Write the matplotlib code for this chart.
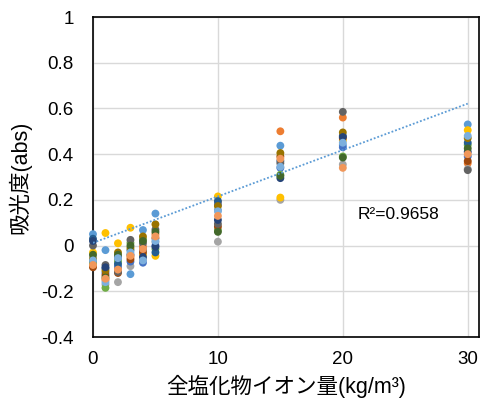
import numpy as np
import matplotlib
matplotlib.use('Agg')
import matplotlib.pyplot as plt
from matplotlib.ticker import FixedLocator, FuncFormatter

plt.rcParams['font.family'] = ['Liberation Sans', 'Noto Sans CJK JP', 'DejaVu Sans']

# 全塩化物イオン量 (kg/m3)
conc = [0, 1, 2, 3, 4, 5, 10, 15, 20, 30]

# 吸光度 for each sample at every concentration, in sample order
abs_0 = [0.050, -0.090, -0.050, -0.030, -0.070, -0.080, 0.030, -0.095, 0.000, -0.060, 0.020, -0.040, -0.065, -0.085]
abs_1 = [-0.020, -0.150, -0.170, 0.055, -0.120, -0.185, -0.100, -0.130, -0.085, -0.110, -0.095, -0.140, -0.160, -0.145]
abs_2 = [-0.060, -0.100, -0.160, 0.010, -0.090, -0.070, -0.080, -0.120, -0.115, -0.030, -0.050, -0.040, -0.055, -0.105]
abs_3 = [-0.125, -0.050, -0.090, 0.078, -0.070, 0.012, -0.020, -0.060, 0.025, -0.010, -0.040, 0.000, -0.030, -0.045]
abs_4 = [0.068, -0.005, -0.060, -0.040, -0.075, 0.028, -0.020, -0.030, 0.010, 0.040, -0.050, 0.020, -0.065, -0.015]
abs_5 = [0.140, 0.050, 0.015, -0.045, 0.000, -0.015, -0.030, 0.032, 0.070, 0.093, -0.005, 0.060, 0.020, 0.040]
abs_10 = [0.155, 0.190, 0.017, 0.215, 0.180, 0.068, 0.195, 0.083, 0.095, 0.173, 0.112, 0.060, 0.150, 0.130]
abs_15 = [0.437, 0.500, 0.200, 0.210, 0.340, 0.310, 0.370, 0.390, 0.360, 0.405, 0.295, 0.305, 0.345, 0.380]
abs_20 = [0.440, 0.560, 0.355, 0.460, 0.430, 0.390, 0.480, 0.470, 0.585, 0.495, 0.475, 0.385, 0.450, 0.340]
abs_30 = [0.530, 0.360, 0.335, 0.505, 0.390, 0.440, 0.450, 0.370, 0.330, 0.470, 0.410, 0.425, 0.480, 0.400]

# 近似直線 (線形)
trend_slope = 0.0203
trend_intercept = 0.012
r2_text = 'R²=0.9658'

colors = ['#5B9BD5', '#ED7D31', '#A5A5A5', '#FFC000', '#4472C4', '#70AD47', '#255E91',
          '#9E480E', '#636363', '#997300', '#264478', '#43682B', '#7CAFDD', '#F1975A']

table = np.array([abs_0, abs_1, abs_2, abs_3, abs_4, abs_5, abs_10, abs_15, abs_20, abs_30])

fig = plt.figure(figsize=(4.81, 4.01), dpi=100)
ax = fig.add_axes([0.1933, 0.1596, 0.8025, 0.798])

for i, c in enumerate(colors):
    ax.scatter(conc, table[:, i], s=32, color=c, edgecolors='none', zorder=3, clip_on=False)

xs = np.array([0, 30])
ax.plot(xs, trend_intercept + trend_slope * xs, color='#5B9BD5', lw=1.3,
        linestyle=(0, (1, 1.1)), zorder=4)

ax.text(21.2, 0.138, r2_text, fontsize=12.5, va='center', ha='left')

ax.set_xlim(0, 30.9)
ax.set_ylim(-0.4, 1.0)
ax.xaxis.set_major_locator(FixedLocator([0, 10, 20, 30]))
ax.yaxis.set_major_locator(FixedLocator(np.round(np.arange(-0.4, 1.01, 0.2), 1)))
ax.yaxis.set_major_formatter(FuncFormatter(lambda v, p: '0' if abs(v) < 1e-9 else ('%g' % round(v, 1))))
ax.tick_params(length=0, labelsize=13.5, pad=14)
ax.tick_params(axis='x', pad=10)
ax.grid(True, color='#D9D9D9', lw=1.0, zorder=0)
ax.set_axisbelow(True)
for sp in ax.spines.values():
    sp.set_color('black')
    sp.set_linewidth(1.2)

ax.set_xlabel('全塩化物イオン量(kg/m³)', fontsize=15.5, labelpad=5)
ax.set_ylabel('吸光度(abs)', fontsize=15.5, labelpad=7)

fig.savefig('out.png', dpi=100)
